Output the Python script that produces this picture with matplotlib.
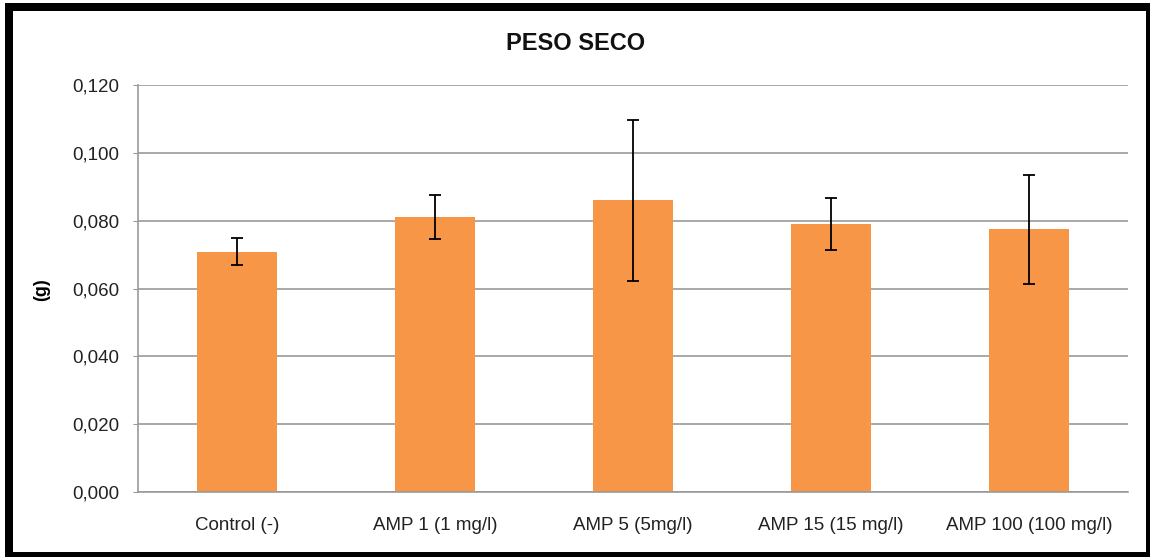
import matplotlib
matplotlib.use("Agg")
import matplotlib.pyplot as plt
from matplotlib.ticker import FuncFormatter, MultipleLocator
from matplotlib.patches import Rectangle

categories = ["Control (-)", "AMP 1 (1 mg/l)", "AMP 5 (5mg/l)", "AMP 15 (15 mg/l)", "AMP 100 (100 mg/l)"]
values = [0.0708, 0.0812, 0.0860, 0.0790, 0.0774]
errors = [0.0040, 0.0065, 0.0238, 0.0076, 0.0161]

plt.rcParams['font.family'] = ['Liberation Sans', 'DejaVu Sans']

fig = plt.figure(figsize=(11.5, 5.6), dpi=100)
W, H = 1150, 560
# frame
fig.patches.append(Rectangle((5 / W, 3 / H), 1145 / W, 554 / H, transform=fig.transFigure,
                             facecolor='black', edgecolor='none', zorder=-2))
fig.patches.append(Rectangle((13 / W, 8 / H), 1133 / W, 541 / H, transform=fig.transFigure,
                             facecolor='white', edgecolor='none', zorder=-1))

ax = fig.add_axes([138 / W, 1 - 492 / H, 990 / W, 407 / H])
ax.set_facecolor('none')
x = list(range(len(categories)))
ax.bar(x, values, width=0.4, color='#F79646', zorder=2,
       yerr=errors, error_kw=dict(ecolor='black', elinewidth=1.3, capsize=4.5, capthick=1.3, zorder=3))
ax.set_xlim(-0.5, len(categories) - 0.5)
ax.set_ylim(0, 0.120)
ax.yaxis.set_major_locator(MultipleLocator(0.020))
ax.yaxis.set_major_formatter(FuncFormatter(lambda v, p: f"{v:.3f}".replace('.', ',')))
ax.grid(axis='y', color='#9a9a9a', linewidth=1.2, zorder=1)
ax.set_axisbelow(True)
for s in ['top', 'right']:
    ax.spines[s].set_visible(False)
for s in ['left', 'bottom']:
    ax.spines[s].set_color('#9a9a9a')
    ax.spines[s].set_linewidth(1.2)
ax.set_xticks(x)
ax.set_xticklabels(categories, fontsize=13.5, color='#222222')
ax.tick_params(axis='x', length=0, pad=18)
ax.tick_params(axis='y', length=3.5, color='#9a9a9a', labelsize=13.5, labelcolor='#222222', pad=10)
ax.set_ylabel('(g)', fontsize=13, fontweight='bold')
ax.yaxis.set_label_coords((50 - 138) / 990, (492 - 290) / 407)

fig.text(576 / W, 1 - 43.5 / H, 'PESO SECO', ha='center', va='center', fontsize=17, fontweight='bold',
         color='#111111')

fig.savefig('out.png', dpi=100)
